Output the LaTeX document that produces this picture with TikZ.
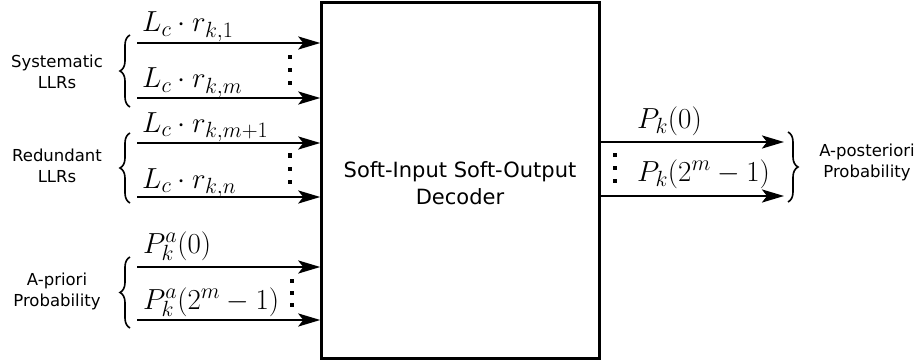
\RequirePackage{fix-cm}
\documentclass[tikz,border=0pt]{standalone}
\usepackage[no-math]{fontspec}
\newfontfamily\djv{DejaVu Sans}
\DeclareMathSizes{29}{29}{22}{16}
\usetikzlibrary{arrows.meta,decorations.pathreplacing}
\begin{document}
\begin{tikzpicture}[x=1pt,y=-1pt,
  arr/.style={line width=2.5pt,-{Stealth[length=22pt,width=13pt,inset=5pt]}},
  brc/.style={decorate,decoration={brace,amplitude=10pt},line width=1.6pt},
  lbl/.style={font=\djv\fontsize{16.5}{21}\selectfont,align=center,inner sep=0},
  mth/.style={font=\fontsize{29}{33}\selectfont,anchor=base west,inner sep=0},
  dotsq/.style={fill=black}
]
\useasboundingbox (0,0) rectangle (923,361);
\node[draw,line width=2.5pt,minimum width=278pt,minimum height=356pt,inner sep=0] (dec) at (460.5,180.6) {};
\node[font=\djv\fontsize{21}{27}\selectfont,align=center,inner sep=0] (dect) at (460,183.5)
  {Soft-Input Soft-Output\\Decoder};
% input arrow start points
\coordinate (s1) at (137,43);
\coordinate (s2) at (137,98);
\coordinate (r1) at (137,143);
\coordinate (r2) at (137,197);
\coordinate (a1) at (137,267);
\coordinate (a2) at (137,320);
\foreach \c in {s1,s2,r1,r2,a1,a2} \draw[arr] (\c) -- (\c -| dec.west);
% output arrows
\coordinate (o1) at (784,142);
\coordinate (o2) at (784,196);
\foreach \c in {o1,o2} \draw[arr] (dec.east |- \c) -- (\c);
% math labels
\node[mth] (ls1) at (142,32) {$L_c\cdot r_{k,1}$};
\node[mth] (ls2) at (142,88) {$L_c\cdot r_{k,m}$};
\node[mth] (lr1) at (142,132) {$L_c\cdot r_{k,m+1}$};
\node[mth] (lr2) at (142,188) {$L_c\cdot r_{k,n}$};
\node[mth] (la1) at (143,253) {$P_k^a(0)$};
\node[mth] (la2) at (143,309) {$P_k^a(2^m-1)$};
\node[mth] (lo1) at (637,128) {$P_k(0)$};
\node[mth] (lo2) at (637,181) {$P_k(2^m-1)$};
% vertical dots
\foreach \x/\y in {290/57,290/70,290/83, 290/155.5,290/168.7,290/182, 292/281,292/293,292/305, 615/155,615/168,615/181}
  \fill[dotsq] (\x-2.2,\y-2.2) rectangle (\x+2.2,\y+2.2);
% braces
\coordinate (bs1) at (130,107); \coordinate (bs2) at (130,35);
\coordinate (br1) at (130,203); \coordinate (br2) at (130,133);
\coordinate (ba1) at (130,328); \coordinate (ba2) at (130,257);
\coordinate (bo1) at (788,132); \coordinate (bo2) at (788,202);
\draw[brc] (bs1) -- (bs2);
\draw[brc] (br1) -- (br2);
\draw[brc] (ba1) -- (ba2);
\draw[brc] (bo1) -- (bo2);
% side labels
\node[lbl] (tsys) at (57,72) {Systematic\\LLRs};
\node[lbl] (tred) at (57,166) {Redundant\\LLRs};
\node[lbl] (tapr) at (57,291) {A-priori\\Probability};
\node[lbl] (tapo) at (867,162) {A-posteriori\\Probability};
\end{tikzpicture}
\end{document}
